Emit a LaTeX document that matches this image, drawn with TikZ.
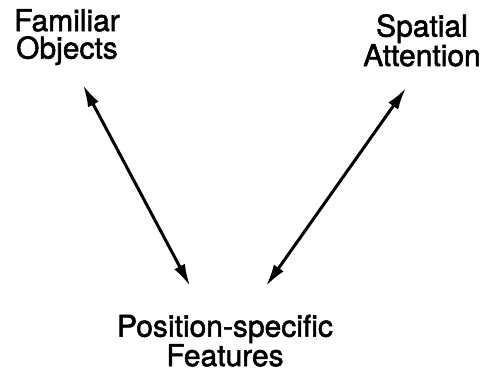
\documentclass[tikz,border=0pt]{standalone}
\usepackage{fontspec}
\newfontfamily\scanfont{TeX Gyre Heros}[FakeBold=1.8]
\usetikzlibrary{arrows.meta}
\begin{document}
\begin{tikzpicture}[x=1pt,y=-1pt,
  label/.style={inner sep=0pt,align=center,font=\scanfont\fontsize{30}{27.5}\selectfont},
  link/.style={line width=3pt,{Latex[length=22pt,width=12pt]}-{Latex[length=22pt,width=12pt]}}]
\useasboundingbox (0,0) rectangle (485,370);
\node[label,anchor=north] (fam) at (67,9) {Familiar\\Objects};
\node[label,anchor=north] (spa) at (422,14) {Spatial\\Attention};
\node[label,anchor=north] (pos) at (225,314.5) {Position-specific\\Features};
\coordinate (f1) at (83,85);
\coordinate (p1) at (190,286);
\coordinate (s1) at (406,88);
\coordinate (p2) at (266,286);
\draw[link] (f1) -- (p1);
\draw[link] (s1) -- (p2);
\end{tikzpicture}
\end{document}
